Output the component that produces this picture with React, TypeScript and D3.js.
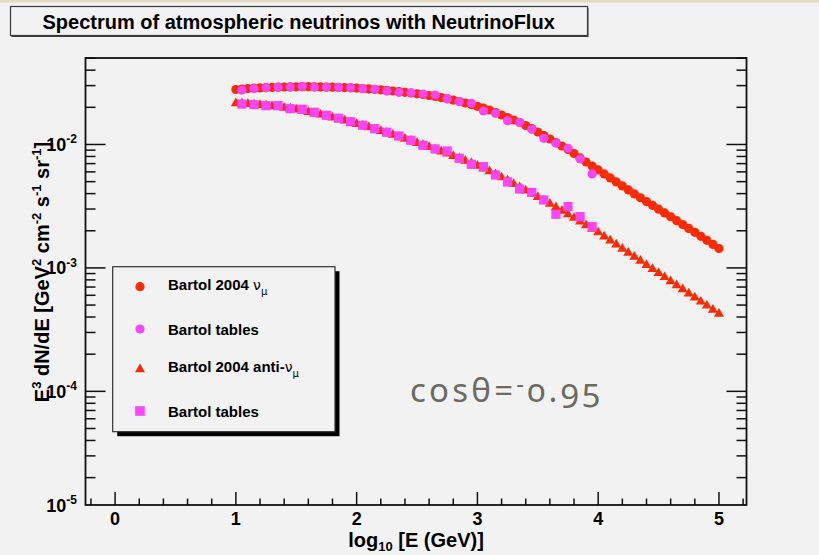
import React from "react";
import * as d3 from "d3";

const WIDTH = 819;
const HEIGHT = 555;

const TITLE = "Spectrum of atmospheric neutrinos with NeutrinoFlux";
const ANGLE_NOTE = "cosθ=";

// log10(E / GeV) sampling of the Bartol 2004 curves and of the Bartol tables
const denseLogE = d3.range(81).map((i) => +(1 + i * 0.05).toFixed(2));
const tableLogE = d3.range(30).map((i) => +(1.05 + i * 0.1).toFixed(2));

// E^3 dN/dE [GeV^2 cm^-2 s^-1 sr^-1] at cos(theta) = -0.95
const numuBartol2004 = [
  2.789e-2, 2.815e-2, 2.836e-2, 2.858e-2, 2.874e-2, 2.89e-2, 2.901e-2, 2.911e-2, 2.922e-2, 2.928e-2,
  2.933e-2, 2.939e-2, 2.939e-2, 2.933e-2, 2.928e-2, 2.922e-2, 2.911e-2, 2.901e-2, 2.89e-2, 2.879e-2,
  2.863e-2, 2.842e-2, 2.82e-2, 2.799e-2, 2.773e-2, 2.742e-2, 2.712e-2, 2.682e-2, 2.647e-2, 2.612e-2,
  2.574e-2, 2.536e-2, 2.494e-2, 2.448e-2, 2.398e-2, 2.345e-2, 2.289e-2, 2.23e-2, 2.168e-2, 2.104e-2,
  2.038e-2, 1.971e-2, 1.903e-2, 1.816e-2, 1.734e-2, 1.654e-2, 1.579e-2, 1.507e-2, 1.425e-2, 1.348e-2,
  1.262e-2, 1.183e-2, 1.108e-2, 1.038e-2, 9.724e-3, 9.11e-3, 8.454e-3, 7.776e-3, 7.216e-3, 6.695e-3,
  6.216e-3, 5.771e-3, 5.357e-3, 4.971e-3, 4.613e-3, 4.281e-3, 3.974e-3, 3.702e-3, 3.448e-3, 3.212e-3,
  2.992e-3, 2.788e-3, 2.598e-3, 2.415e-3, 2.246e-3, 2.088e-3, 1.942e-3, 1.803e-3, 1.673e-3, 1.55e-3,
  1.436e-3,
];

const numuTables = [
  2.762e-2, 2.83e-2, 2.884e-2, 2.906e-2, 2.922e-2, 2.96e-2, 2.922e-2, 2.906e-2, 2.906e-2, 2.884e-2,
  2.83e-2, 2.799e-2, 2.711e-2, 2.646e-2, 2.626e-2, 2.564e-2, 2.517e-2, 2.349e-2, 2.222e-2, 2.156e-2,
  1.868e-2, 1.789e-2, 1.558e-2, 1.513e-2, 1.327e-2, 1.122e-2, 1.023e-2, 9.32e-3, 7.63e-3, 5.77e-3,
];

const antiNumuBartol2004 = [
  2.156e-2, 2.144e-2, 2.128e-2, 2.108e-2, 2.089e-2, 2.065e-2, 2.038e-2, 2.012e-2, 1.982e-2, 1.95e-2,
  1.914e-2, 1.875e-2, 1.833e-2, 1.789e-2, 1.743e-2, 1.698e-2, 1.651e-2, 1.606e-2, 1.559e-2, 1.513e-2,
  1.466e-2, 1.42e-2, 1.375e-2, 1.33e-2, 1.286e-2, 1.241e-2, 1.198e-2, 1.154e-2, 1.112e-2, 1.069e-2,
  1.028e-2, 9.889e-3, 9.509e-3, 9.145e-3, 8.777e-3, 8.425e-3, 8.07e-3, 7.718e-3, 7.38e-3, 7.043e-3,
  6.72e-3, 6.392e-3, 6.056e-3, 5.728e-3, 5.407e-3, 5.092e-3, 4.787e-3, 4.501e-3, 4.233e-3, 3.981e-3,
  3.744e-3, 3.52e-3, 3.304e-3, 3.094e-3, 2.894e-3, 2.711e-3, 2.54e-3, 2.37e-3, 2.217e-3, 2.073e-3,
  1.938e-3, 1.796e-3, 1.664e-3, 1.544e-3, 1.43e-3, 1.325e-3, 1.23e-3, 1.139e-3, 1.055e-3, 9.779e-4,
  9.06e-4, 8.408e-4, 7.79e-4, 7.216e-4, 6.695e-4, 6.204e-4, 5.747e-4, 5.324e-4, 4.941e-4, 4.577e-4,
  4.241e-4,
];

const antiNumuTables = [
  2.128e-2, 2.101e-2, 2.062e-2, 2.062e-2, 1.95e-2, 1.928e-2, 1.823e-2, 1.724e-2, 1.63e-2, 1.53e-2,
  1.43e-2, 1.342e-2, 1.256e-2, 1.172e-2, 1.081e-2, 9.85e-3, 9.2e-3, 8.86e-3, 7.73e-3, 6.91e-3,
  6.61e-3, 5.66e-3, 4.97e-3, 4.36e-3, 4.09e-3, 3.55e-3, 2.72e-3, 3.14e-3, 2.6e-3, 2.16e-3,
];

const xMajorTicks = [0, 1, 2, 3, 4, 5];
const yDecadeTicks = [1e-2, 1e-3, 1e-4];
const X_DOMAIN: [number, number] = [-0.245, 5.228];
const Y_DOMAIN: [number, number] = [1.2e-5, 0.0502];
const Y_BOTTOM_LABEL_EXP = -5;

const RED = "#ff2a00";
const MAGENTA = "#ff44ff";

type MarkerKind = "circle" | "triangle" | "square";

const legendEntries: { text: string; nu: string; sub: string; color: string; kind: MarkerKind }[] = [
  { text: "Bartol 2004 ", nu: "ν", sub: "μ", color: RED, kind: "circle" },
  { text: "Bartol tables", nu: "", sub: "", color: MAGENTA, kind: "circle" },
  { text: "Bartol 2004 anti-", nu: "ν", sub: "μ", color: RED, kind: "triangle" },
  { text: "Bartol tables", nu: "", sub: "", color: MAGENTA, kind: "square" },
];

const frame = { left: 85.5, right: 746.5, top: 58, bottom: 505 };

const trianglePath = d3.symbol(d3.symbolTriangle, 44)() as string;

function Marker({ kind, x, y, color, r = 4.6 }: { kind: MarkerKind; x: number; y: number; color: string; r?: number }) {
  if (kind === "circle") return <circle cx={x} cy={y} r={r} fill={color} />;
  if (kind === "square") return <rect x={x - r} y={y - r} width={2 * r} height={2 * r} fill={color} />;
  return <path d={trianglePath} transform={`translate(${x},${y})`} fill={color} />;
}

export default function App() {
  const x = d3.scaleLinear().domain(X_DOMAIN).range([frame.left, frame.right]);
  const y = d3.scaleLog().domain(Y_DOMAIN).range([frame.bottom, frame.top]);

  const xMinorTicks = d3
    .range(-1, 27)
    .map((i) => +(i * 0.2).toFixed(2))
    .filter((v) => v >= X_DOMAIN[0] && v <= X_DOMAIN[1] && Math.abs(v - Math.round(v)) > 1e-6);

  const yMinorTicks: number[] = [];
  for (let e = -5; e <= -2; e++) {
    for (let m = 2; m <= 9; m++) {
      const v = m * Math.pow(10, e);
      if (v > Y_DOMAIN[0] && v < Y_DOMAIN[1]) yMinorTicks.push(v);
    }
  }

  const font = "'Liberation Sans', Arial, Helvetica, sans-serif";
  const yMajorLen = 20;
  const yMinorLen = 10;
  const xMajorLen = 13;
  const xMinorLen = 6.5;

  const legend = { x: 112.7, y: 266.7, w: 222.3, h: 165 };
  const legendMarkerY = [286.7, 329, 369.3, 411];

  return (
    <svg
      width={WIDTH}
      height={HEIGHT}
      style={{ position: "absolute", left: 0, top: 0, display: "block" }}
      fontFamily={font}
    >
      <rect x={0} y={0} width={WIDTH} height={HEIGHT} fill="#f2f2f2" />
      <rect x={0} y={0} width={WIDTH} height={2.5} fill="#e2d9c6" />

      {/* title box */}
      <rect x={11.5} y={8} width={577} height={29} fill="#3a3a3a" />
      <rect x={10.5} y={6.5} width={577} height={29} fill="#f2f2f2" stroke="#3a3a3a" strokeWidth={1.2} />
      <text x={42.5} y={28.5} fontSize={20} fontWeight="bold" fill="#000">
        {TITLE}
      </text>

      {/* data */}
      <g>
        {numuBartol2004.map((v, i) => (
          <Marker key={`a${i}`} kind="circle" x={x(denseLogE[i])} y={y(v)} color={RED} />
        ))}
        {numuTables.map((v, i) => (
          <Marker key={`b${i}`} kind="circle" x={x(tableLogE[i])} y={y(v)} color={MAGENTA} />
        ))}
        {antiNumuBartol2004.map((v, i) => (
          <Marker key={`c${i}`} kind="triangle" x={x(denseLogE[i])} y={y(v)} color={RED} />
        ))}
        {antiNumuTables.map((v, i) => (
          <Marker key={`d${i}`} kind="square" x={x(tableLogE[i])} y={y(v)} color={MAGENTA} />
        ))}
      </g>

      {/* axes frame and ticks */}
      <g stroke="#111" strokeWidth={1.5} fill="none">
        {xMajorTicks.map((t) => (
          <line key={`xm${t}`} x1={x(t)} x2={x(t)} y1={frame.bottom} y2={frame.bottom - xMajorLen} />
        ))}
        {xMinorTicks.map((t) => (
          <line key={`xn${t}`} x1={x(t)} x2={x(t)} y1={frame.bottom} y2={frame.bottom - xMinorLen} />
        ))}
        {yDecadeTicks.map((t) => (
          <g key={`ym${t}`}>
            <line x1={frame.left} x2={frame.left + yMajorLen} y1={y(t)} y2={y(t)} />
            <line x1={frame.right} x2={frame.right - yMajorLen} y1={y(t)} y2={y(t)} />
          </g>
        ))}
        {yMinorTicks.map((t) => (
          <g key={`yn${t}`}>
            <line x1={frame.left} x2={frame.left + yMinorLen} y1={y(t)} y2={y(t)} />
            <line x1={frame.right} x2={frame.right - yMinorLen} y1={y(t)} y2={y(t)} />
          </g>
        ))}
        <rect
          x={frame.left}
          y={frame.top}
          width={frame.right - frame.left}
          height={frame.bottom - frame.top}
          strokeWidth={1.8}
        />
      </g>

      {/* x tick labels */}
      <g fontSize={18} fontWeight="bold" textAnchor="middle" fill="#000">
        {xMajorTicks.map((t) => (
          <text key={`xl${t}`} x={x(t)} y={525}>
            {t}
          </text>
        ))}
      </g>

      {/* y tick labels */}
      <g fontSize={18} fontWeight="bold" textAnchor="end" fill="#000">
        {yDecadeTicks.map((t) => (
          <text key={`yl${t}`} x={77} y={y(t) + 6.5}>
            10
            <tspan dy={-7.5} fontSize={12}>
              {Math.round(Math.log10(t))}
            </tspan>
          </text>
        ))}
        <text x={77} y={frame.bottom + 6.5}>
          10
          <tspan dy={-7.5} fontSize={12}>
            {Y_BOTTOM_LABEL_EXP}
          </tspan>
        </text>
      </g>

      {/* axis titles */}
      <text x={(frame.left + frame.right) / 2} y={547} fontSize={20} fontWeight="bold" textAnchor="middle">
        log
        <tspan dy={4} fontSize={13}>
          10
        </tspan>
        <tspan dy={-4}> [E (GeV)]</tspan>
      </text>
      <text transform="translate(49,272) rotate(-90)" fontSize={20} fontWeight="bold" textAnchor="middle">
        E<tspan dy={-8} fontSize={13}>3</tspan>
        <tspan dy={8}> dN/dE [GeV</tspan>
        <tspan dy={-8} fontSize={13}>2</tspan>
        <tspan dy={8}> cm</tspan>
        <tspan dy={-8} fontSize={13}>-2</tspan>
        <tspan dy={8}> s</tspan>
        <tspan dy={-8} fontSize={13}>-1</tspan>
        <tspan dy={8}> sr</tspan>
        <tspan dy={-8} fontSize={13}>-1</tspan>
        <tspan dy={8}>]</tspan>
      </text>

      {/* legend */}
      <rect x={legend.x + 4.5} y={legend.y + 4.5} width={legend.w} height={legend.h} fill="#000" />
      <rect x={legend.x} y={legend.y} width={legend.w} height={legend.h} fill="#f2f2f2" stroke="#333" strokeWidth={1.2} />
      {legendEntries.map((e, i) => {
        const my = legendMarkerY[i];
        const baseline = e.sub ? my + 3 : my + 5.5;
        return (
          <g key={`lg${i}`}>
            <Marker kind={e.kind} x={140} y={my} color={e.color} r={e.kind === "square" ? 4.8 : 4.6} />
            <text x={168} y={baseline} fontSize={15} fontWeight="bold" fill="#000">
              {e.text}
              {e.nu && (
                <tspan fontWeight="normal" fontFamily="'DejaVu Sans', sans-serif" fontSize={14}>
                  {e.nu}
                </tspan>
              )}
              {e.sub && (
                <tspan dy={5} fontWeight="normal" fontFamily="'DejaVu Sans', sans-serif" fontSize={10}>
                  {e.sub}
                </tspan>
              )}
            </text>
          </g>
        );
      })}

      {/* angle annotation */}
      <text
        x={410}
        y={401.5}
        fontSize={33}
        fill="#6b6b64"
        fontFamily="'Noto Sans', sans-serif"
        style={{ fontVariantNumeric: "oldstyle-nums" }}
        textLength={190}
        lengthAdjust="spacing"
      >
        {ANGLE_NOTE}
        <tspan dy={-10} fontSize={24}>
          -
        </tspan>
        <tspan dy={10}>0.95</tspan>
      </text>
    </svg>
  );
}
